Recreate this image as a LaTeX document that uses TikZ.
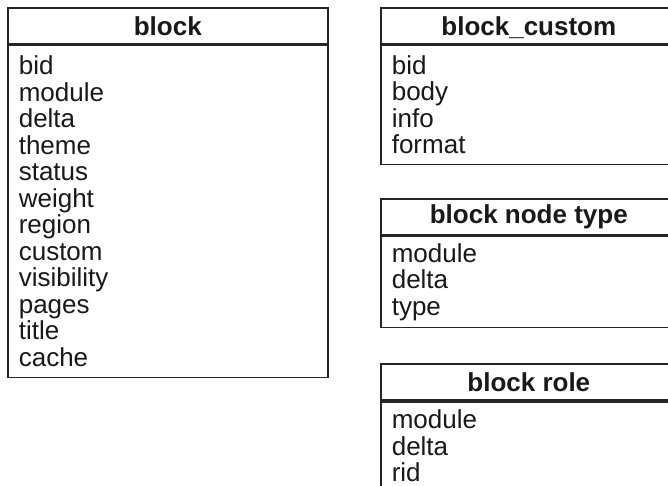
\documentclass[tikz,border=0pt]{standalone}
\usepackage{fontspec}
\setmainfont{Liberation Sans}
\usetikzlibrary{positioning}

\tikzset{
  tablehead/.style={draw=black!85, line width=1.6pt, inner sep=0pt,
    minimum height=36pt, text=black!90,
    font=\fontsize{26}{26.5}\selectfont\bfseries},
  tablebody/.style={draw=black!85, line width=1.6pt, inner xsep=11pt,
    inner ysep=0pt, align=left, text=black!90,
    font=\fontsize{26}{26.5}\selectfont},
}

\begin{document}
\begin{tikzpicture}[x=1pt,y=-1pt]
  \useasboundingbox (0,0) rectangle (668,485);
  \clip (0,0) rectangle (668,485);
  \fill[white] (0,0) rectangle (668,485);

  % left table
  \node[tablehead, minimum width=320pt, anchor=north west] (block) at (7,7) {block};
  \node[tablebody, text width=298pt, minimum height=332pt, anchor=north] (blockfields) at (block.south)
    {bid\\module\\delta\\theme\\status\\weight\\region\\custom\\visibility\\pages\\title\\cache};

  % right column, cut off by the edge
  \node[tablehead, minimum width=296pt, text depth=0pt, anchor=north west] (custom) at (380,7) {block\_custom};
  \node[tablebody, text width=274pt, minimum height=119pt, anchor=north] (customfields) at (custom.south)
    {bid\\body\\info\\format};

  \node[tablehead, minimum width=296pt, below=33pt of customfields.south west, anchor=north west] (nodetype) {block node type};
  \node[tablebody, text width=274pt, minimum height=91pt, anchor=north] (nodetypefields) at (nodetype.south)
    {module\\delta\\type};

  \node[tablehead, minimum width=296pt, below=35pt of nodetypefields.south west, anchor=north west] (role) {block role};
  \node[tablebody, text width=274pt, inner ysep=8pt, text depth=90pt, anchor=north] (rolefields) at (role.south)
    {module\\delta\\rid};
\end{tikzpicture}
\end{document}
